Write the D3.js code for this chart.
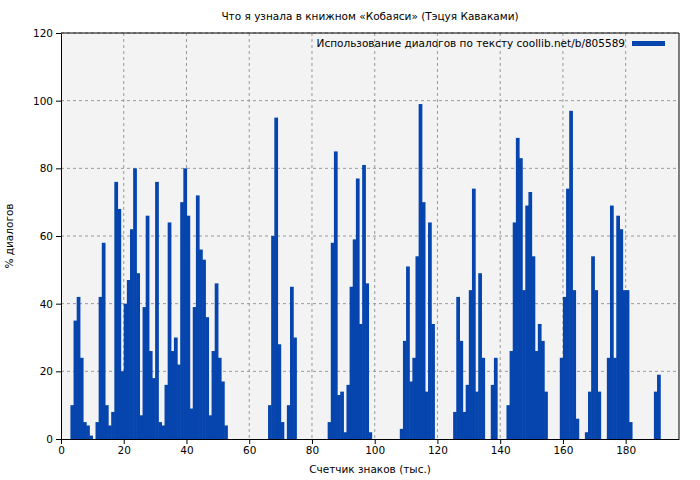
<!DOCTYPE html>
<html><head><meta charset="utf-8">
<script src="https://cdn.jsdelivr.net/npm/d3@7"></script>
<style>body{margin:0;background:#fff}text{font-family:"DejaVu Sans",sans-serif}</style>
</head><body><svg id="c" width="700" height="480"></svg>
<script>
const title = "Что я узнала в книжном «Кобаяси» (Тэцуя Каваками)";
const seriesName = "Использование диалогов по тексту coollib.net/b/805589";
const xLabel = "Счетчик знаков (тыс.)";
const yLabel = "% диалогов";
const xTicks = [0,20,40,60,80,100,120,140,160,180];
const yTicks = [0,20,40,60,80,100,120];
// value for each 1 thousand-character segment, starting at 0
const values = [
0,0,0,10,35,42,24,5,4,1, 0,5,42,58,10,4,8,76,68,20,
40,47,62,80,49,7,39,66,26,18, 76,5,4,16,64,26,30,22,70,80,
66,9,39,72,56,53,36,7,26,46, 24,17,4,0,0,0,0,0,0,0,
0,0,0,0,0,0,10,60,95,28, 5,0,10,45,30,0,0,0,0,0,
0,0,0,0,0,5,58,85,13,14, 2,16,45,59,77,34,81,46,2,0,
0,0,0,0,0,0,0,0,3,29, 51,17,24,54,99,70,14,64,34,0,
0,0,0,0,0,8,42,29,8,16, 44,74,14,49,24,0,0,16,24,0,
0,0,10,26,64,89,83,44,69,73, 54,26,34,29,14,0,0,0,0,24,
42,74,97,44,6,0,0,2,14,54, 44,14,0,0,24,69,24,66,62,44,
44,5,0,0,0,0,0,0,0,14, 19
];
const FS = 10.5;
const svg = d3.select("#c");
const m = {l:61,r:679,t:33,b:439};
const x = d3.scaleLinear().domain([0,197]).range([m.l,m.r]);
const y = d3.scaleLinear().domain([0,120]).range([m.b,m.t]);
svg.append("rect").attr("x",m.l).attr("y",m.t).attr("width",m.r-m.l).attr("height",m.b-m.t).attr("fill","#f3f3f3");
const g = svg.append("g");
xTicks.forEach(t=>{ if(t>0) g.append("line").attr("x1",x(t)).attr("x2",x(t)).attr("y1",m.t).attr("y2",m.b).attr("stroke","#999").attr("stroke-dasharray","3,3");});
yTicks.forEach(t=>{ if(t>0) g.append("line").attr("x1",m.l).attr("x2",m.r).attr("y1",y(t)).attr("y2",y(t)).attr("stroke","#999").attr("stroke-dasharray","3,3");});
svg.append("g").selectAll("rect").data(values.map((v,i)=>({i,v})).filter(d=>d.v>0)).join("rect")
 .attr("x",d=>x(d.i)).attr("width",d=>x(d.i+1)-x(d.i)+0.6).attr("y",d=>y(d.v)).attr("height",d=>y(0)-y(d.v)).attr("fill","#0645ad");
const xa = svg.append("g").attr("transform",`translate(0,${m.b})`).call(d3.axisBottom(x).tickValues(xTicks).tickSize(5).tickSizeOuter(0));
const ya = svg.append("g").attr("transform",`translate(${m.l},0)`).call(d3.axisLeft(y).tickValues(yTicks).tickSize(5).tickSizeOuter(0));
[xa,ya].forEach(a=>{a.selectAll("text").attr("font-size",FS).attr("fill","#000").attr("font-family","DejaVu Sans");a.select(".domain").attr("stroke","#000");});
svg.append("line").attr("x1",m.r).attr("x2",m.r).attr("y1",m.t).attr("y2",m.b).attr("stroke","#000");
svg.append("line").attr("x1",m.l).attr("x2",m.r).attr("y1",m.t).attr("y2",m.t).attr("stroke","#000");
svg.append("text").attr("x",370).attr("y",20).attr("text-anchor","middle").attr("font-size",FS).text(title);
svg.append("text").attr("x",370).attr("y",473).attr("text-anchor","middle").attr("font-size",FS).text(xLabel);
svg.append("text").attr("transform","translate(13,236) rotate(-90)").attr("text-anchor","middle").attr("font-size",FS).text(yLabel);
svg.append("text").attr("x",625).attr("y",47).attr("text-anchor","end").attr("font-size",FS).text(seriesName);
svg.append("rect").attr("x",632).attr("y",41).attr("width",33).attr("height",5).attr("fill","#0645ad");
</script></body></html>
